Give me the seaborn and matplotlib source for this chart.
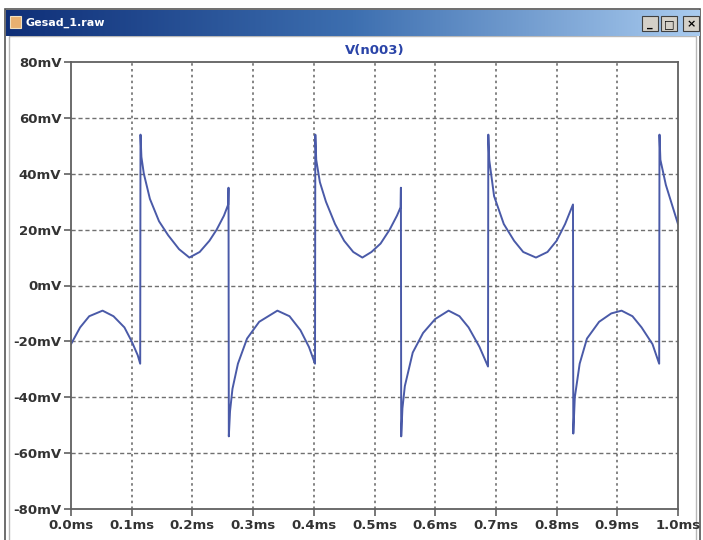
import numpy as np
import pandas as pd
import seaborn as sns
from matplotlib import pyplot as plt
from matplotlib.colors import LinearSegmentedColormap
from matplotlib.patches import Rectangle

# trace: time in ms, voltage in mV
t_ms = [0.000, 0.015, 0.030, 0.052, 0.070, 0.088, 0.100, 0.110, 0.114,
        0.1145, 0.116, 0.120, 0.130, 0.145, 0.160, 0.178, 0.195, 0.212, 0.228, 0.240, 0.252, 0.259,
        0.2595, 0.2600, 0.262, 0.266, 0.275, 0.290, 0.310, 0.340, 0.360, 0.378, 0.392, 0.402,
        0.4025, 0.404, 0.410, 0.420, 0.435, 0.450, 0.465, 0.480, 0.495, 0.510, 0.525, 0.537, 0.543,
        0.5435, 0.544, 0.546, 0.550, 0.563, 0.580, 0.600, 0.622, 0.640, 0.655, 0.673, 0.687,
        0.6875, 0.689, 0.697, 0.713, 0.730, 0.745, 0.766, 0.785, 0.800, 0.814, 0.827,
        0.8275, 0.830, 0.838, 0.850, 0.870, 0.890, 0.907, 0.925, 0.940, 0.958, 0.969,
        0.9695, 0.971, 0.980, 0.990, 1.000]
v_mv = [-21, -15, -11, -9, -11, -15, -20, -25, -28,
        54, 46, 40, 31, 23, 18, 13, 10, 12, 16, 20, 25, 29,
        35, -54, -45, -37, -28, -19, -13, -9, -11, -16, -22, -28,
        54, 45, 37, 30, 22, 16, 12, 10, 12, 15, 20, 25, 28,
        35, -54, -44, -36, -24, -17, -12, -9, -11, -15, -22, -29,
        54, 45, 32, 22, 16, 12, 10, 12, 16, 22, 29,
        -53, -40, -28, -19, -13, -10, -9, -11, -15, -21, -28,
        54, 45, 36, 29, 22]

x_ticks = [0.0, 0.1, 0.2, 0.3, 0.4, 0.5, 0.6, 0.7, 0.8, 0.9, 1.0]
x_labels = ['0.0ms', '0.1ms', '0.2ms', '0.3ms', '0.4ms', '0.5ms',
            '0.6ms', '0.7ms', '0.8ms', '0.9ms', '1.0ms']
y_ticks = [80, 60, 40, 20, 0, -20, -40, -60, -80]
y_labels = ['80mV', '60mV', '40mV', '20mV', '0mV', '-20mV', '-40mV', '-60mV', '-80mV']

df = pd.DataFrame({'t': t_ms, 'v': v_mv})

sns.set_style('white')
W, H = 703, 540
fig = plt.figure(figsize=(W / 100, H / 100), dpi=100)

# window chrome drawn in pixel coords
bg = fig.add_axes([0, 0, 1, 1], zorder=0)
bg.set_xlim(0, W)
bg.set_ylim(H, 0)
bg.axis('off')
bg.add_patch(Rectangle((5, 9), 695, 535, facecolor='white', edgecolor='#555555', lw=1.2))
bg.add_patch(Rectangle((9, 36), 687, 510, facecolor='none', edgecolor='#b8b8b8', lw=1.0))

bar = fig.add_axes([6 / W, 1 - 36 / H, 694 / W, 26 / H], zorder=1)
cmap = LinearSegmentedColormap.from_list('tb', ['#0f2f78', '#3d6fb0', '#a9cbef'])
bar.imshow(np.linspace(0, 1, 256)[None, :], aspect='auto', cmap=cmap, extent=[0, 694, 26, 0])
bar.set_xlim(0, 694)
bar.set_ylim(26, 0)
bar.axis('off')
bar.add_patch(Rectangle((4, 6), 11, 12, facecolor='#e8b070', edgecolor='#f0e0c0', lw=0.8))
bar.text(20, 13, 'Gesad_1.raw', color='white', fontsize=8, fontweight='bold', va='center')
for bx, glyph in [(636, '_'), (655, '□'), (677, '×')]:
    bar.add_patch(Rectangle((bx, 6), 16, 15, facecolor='#d4d0c8', edgecolor='#404040', lw=0.8))
    bar.text(bx + 8, 14, glyph, color='black', fontsize=8, fontweight='bold', ha='center', va='center')

# plot area
ax = fig.add_axes([71 / W, 1 - 509 / H, (678 - 71) / W, (509 - 62) / H], zorder=2)
sns.lineplot(data=df, x='t', y='v', sort=False, estimator=None, color='#4a5aa8', lw=1.4, ax=ax)
ax.set_xlim(0, 1.0)
ax.set_ylim(-80, 80)
ax.set_xticks(x_ticks)
ax.set_xticklabels(x_labels)
ax.set_yticks(y_ticks)
ax.set_yticklabels(y_labels)
ax.set_xlabel('')
ax.set_ylabel('')
for lab in ax.get_xticklabels() + ax.get_yticklabels():
    lab.set_fontweight('bold')
    lab.set_fontsize(9.5)
    lab.set_color('#333333')
ax.tick_params(axis='both', direction='out', length=5, width=1.2, color='#606060', pad=2, left=True, bottom=True)
for y in y_ticks[1:-1]:
    ax.axhline(y, color='#707070', ls=(0, (3, 2)), lw=1.0, zorder=0)
for x in x_ticks[1:-1]:
    ax.axvline(x, color='#707070', ls=(0, (1.5, 2)), lw=1.2, zorder=0)
for s in ax.spines.values():
    s.set_color('#606060')
    s.set_linewidth(1.3)
ax.set_title('V(n003)', color='#2a44a8', fontweight='bold', fontsize=9.5, pad=6)

fig.savefig('out.png', dpi=100)
plt.close()
